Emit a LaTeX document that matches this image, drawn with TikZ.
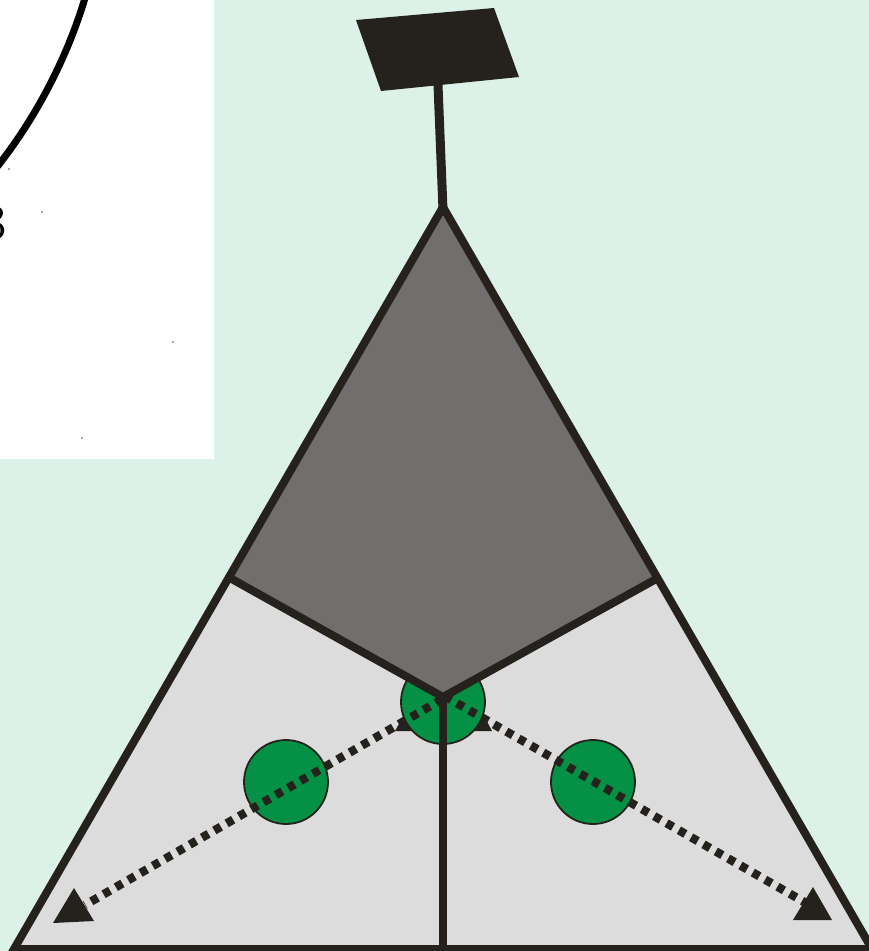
\documentclass[tikz,border=0pt]{standalone}
\usetikzlibrary{calc}
\definecolor{bgc}{HTML}{DCF1E8}
\definecolor{ink}{HTML}{25221D}
\definecolor{lgray}{HTML}{DCDCDC}
\definecolor{dgray}{HTML}{706F6D}
\definecolor{gr}{HTML}{049146}
\tikzset{
  ball/.style={circle,draw=ink,line width=1.8pt,fill=gr,minimum size=84pt,inner sep=0pt},
  edge/.style={draw=ink,line width=8pt,line cap=butt,line join=miter},
  dots/.style={draw=ink,line width=8.5pt,dash pattern=on 7.5pt off 6.7pt},
  tip/.style={fill=ink,draw=none},
  speck/.style={fill=black!70,draw=none}
}
\begin{document}
\begin{tikzpicture}[x=1pt,y=-1pt]
\useasboundingbox (0,0) rectangle (869,951);
\fill[bgc] (0,0) rectangle (869,951);
\fill[white] (0,0) rectangle (214,459);
\begin{scope}
\clip (0,0) rectangle (214,459);
\draw[black,line width=7pt] (85,-2) .. controls (68,55) and (38,115) .. (-3,167);
\node[font=\fontsize{50}{50}\selectfont,inner sep=0pt,anchor=east,text=black] (three) at (7,223) {3};
\foreach \p in {(9,169),(42,212),(173,342),(82,438)} \fill[speck] \p circle (0.8pt);
\end{scope}
% mast and plate
\coordinate (top) at (443,207);
\coordinate (L) at (14,949);
\coordinate (R) at (872,949);
\coordinate (mid) at (443,697);
\coordinate (sl) at (230,578);
\coordinate (sr) at (658,578);
\coordinate (foot) at (438,85);
\fill[ink] (356,20) -- (494,8) -- (519,77) -- (381,91) -- cycle;
\draw[ink,line width=9pt] (foot) -- ($(top)+(0,3)$);
% light face
\fill[lgray] (top) -- (R) -- (L) -- cycle;
% arrow tips under central ball
\fill[tip] (395,731) -- (415,695) -- (435,731) -- cycle;
\fill[tip] (451,731) -- (472,693) -- (492,731) -- cycle;
\node[ball] (c0) at (443,702) {};
\node[ball] (c1) at (286,782) {};
\node[ball] (c2) at (593,782) {};
% dark face covers the top of the central ball
\fill[dgray] (top) -- (sr) -- (mid) -- (sl) -- cycle;
% dark edges
\draw[edge] (sl) -- (mid) -- (sr);
\draw[edge] (mid) -- (443,951);
\draw[edge,miter limit=20] (top) -- (R) -- (L) -- cycle;
% arrows
\coordinate (s1) at (442.3,699.15);
\coordinate (s2) at (444.7,696.2);
\coordinate (a1) at (85,905);
\coordinate (a2) at (806,903);
\draw[dots] (s1) -- (a1);
\draw[dots] (s2) -- (a2);
\fill[tip] (74,888) -- (94,921) -- (53,923) -- cycle;
\fill[tip] (813,887) -- (832,920) -- (793,920) -- cycle;
\end{tikzpicture}
\end{document}
